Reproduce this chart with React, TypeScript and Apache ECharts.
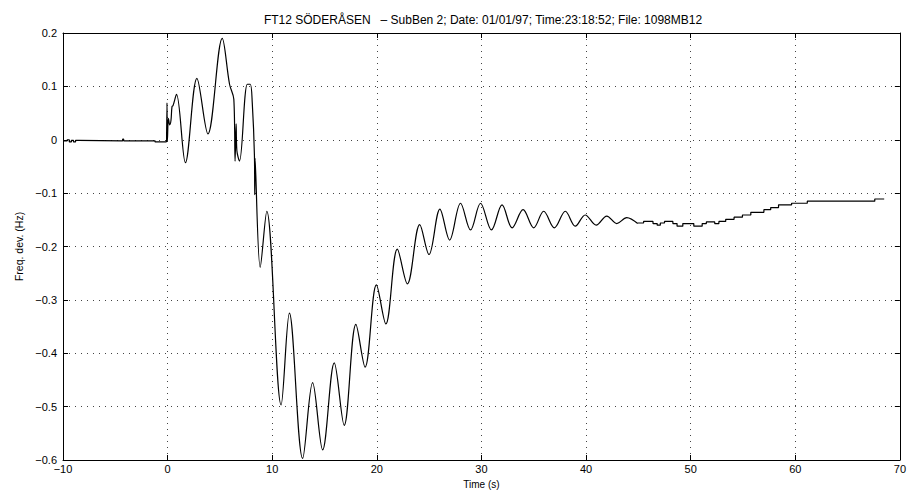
import React, { useEffect, useRef } from "react";
import * as echarts from "echarts";

// Pre-event baseline (held values, step changes)
const preTime = [-10, -9.6, -9.4, -9.2, -9.0, -8.8, -8.5, -4.3, -4.2, -1.2, -0.1];
const preFreq = [-0.002, 0.0, -0.004, -0.001, -0.004, -0.001, -0.002, 0.001, -0.002, -0.004, -0.004];

// Disturbance and swing (turning points)
const swingTime = [
  -0.1, -0.06, -0.02, 0.08, 0.2, 0.32, 0.42, 0.52, 0.85, 1.7, 2.8, 3.85, 5.22, 5.92, 6.33, 6.45,
  6.55, 6.62, 6.87, 7.62, 7.9, 8.09, 8.3, 8.33, 8.36, 8.85, 9.48, 10.85, 11.64, 12.91, 13.86,
  14.82, 15.93, 16.88, 18.0, 18.88, 19.96, 20.86, 21.96, 22.92, 24.1, 24.99, 26.03, 26.96, 28.0,
  28.96, 29.91, 30.96, 31.97, 32.93, 33.98, 35.0, 35.95, 36.97, 38.02, 38.97, 39.92, 40.97,
  41.98, 42.94, 43.89, 44.94,
];
const swingFreq = [
  -0.004, 0.069, -0.002, 0.04, 0.028, 0.036, 0.062, 0.064, 0.085, -0.043, 0.115, 0.011, 0.19,
  0.104, 0.076, -0.04, 0.03, -0.02, -0.04, 0.104, 0.104, 0.07, -0.03, -0.103, -0.035, -0.239,
  -0.134, -0.497, -0.325, -0.597, -0.455, -0.581, -0.418, -0.535, -0.346, -0.426, -0.272,
  -0.345, -0.205, -0.27, -0.159, -0.215, -0.13, -0.188, -0.119, -0.169, -0.119, -0.169, -0.122,
  -0.165, -0.131, -0.165, -0.134, -0.165, -0.134, -0.162, -0.141, -0.16, -0.143, -0.157,
  -0.146, -0.157,
];

// Recovery (quantised, step changes)
const tailTime = [
  44.94, 45.5, 46.4, 46.8, 47.1, 47.5, 48.3, 48.7, 49.25, 50.3, 51.1, 51.5, 52.3, 52.7, 53.35,
  54.15, 54.95, 55.75, 57.0, 57.65, 58.4, 59.65, 61.15, 67.6, 68.5,
];
const tailFreq = [
  -0.156, -0.153, -0.157, -0.16, -0.156, -0.153, -0.157, -0.162, -0.157, -0.162, -0.157, -0.154,
  -0.157, -0.153, -0.149, -0.145, -0.141, -0.136, -0.131, -0.127, -0.122, -0.119, -0.115,
  -0.111, -0.111,
];

const xTicks = [-10, 0, 10, 20, 30, 40, 50, 60, 70];
const yTicks = [-0.6, -0.5, -0.4, -0.3, -0.2, -0.1, 0, 0.1, 0.2];

const titleText = "FT12 SÖDERÅSEN   \u2013 SubBen 2; Date: 01/01/97; Time:23:18:52; File: 1098MB12";
const FONT = "Liberation Sans";

const pairs = (xs: number[], ys: number[]) => xs.map((x, i) => [x, ys[i]]);
const minus = (s: string) => s.replace("-", "\u2212");

export default function App() {
  const ref = useRef<HTMLDivElement>(null);

  useEffect(() => {
    document.body.style.margin = "0";
    const chart = echarts.init(ref.current!, null, { renderer: "svg" });
    const grid = { left: 63, right: 7, top: 33, bottom: 29 };
    const gridDots = { color: "#444", width: 1, type: [1, 5] as number[] };
    const tick = { show: true, inside: true, length: 5, lineStyle: { color: "#000" } };
    const lineCommon = {
      type: "line" as const,
      showSymbol: false,
      lineStyle: { color: "#000", width: 1.2 },
      xAxisIndex: 0,
      yAxisIndex: 0,
    };

    chart.setOption({
      animation: false,
      backgroundColor: "#fff",
      grid,
      graphic: [
        {
          type: "text",
          x: 483,
          y: 20,
          style: {
            text: titleText,
            fontFamily: FONT,
            fontSize: 12,
            fill: "#000",
            textAlign: "center",
            textVerticalAlign: "middle",
          },
        },
      ],
      xAxis: [
        {
          type: "value",
          min: xTicks[0],
          max: xTicks[xTicks.length - 1],
          interval: 10,
          name: "Time (s)",
          nameLocation: "middle",
          nameGap: 19,
          nameTextStyle: { fontFamily: FONT, fontSize: 10, color: "#000" },
          axisLine: { show: true, onZero: false, lineStyle: { color: "#000", width: 1 } },
          axisTick: tick,
          axisLabel: {
            fontFamily: FONT,
            fontSize: 11,
            color: "#000",
            margin: 3,
            formatter: (v: number) => minus(String(v)),
          },
          splitLine: { show: true, lineStyle: gridDots },
        },
        {
          type: "value",
          position: "top",
          min: xTicks[0],
          max: xTicks[xTicks.length - 1],
          interval: 10,
          axisLine: { show: true, onZero: false, lineStyle: { color: "#000", width: 1 } },
          axisTick: tick,
          axisLabel: { show: false },
          splitLine: { show: false },
        },
      ],
      yAxis: [
        {
          type: "value",
          min: yTicks[0],
          max: yTicks[yTicks.length - 1],
          interval: 0.1,
          name: "Freq. dev. (Hz)",
          nameLocation: "middle",
          nameGap: 36,
          nameTextStyle: { fontFamily: FONT, fontSize: 10.5, color: "#000" },
          axisLine: { show: true, onZero: false, lineStyle: { color: "#000", width: 1 } },
          axisTick: tick,
          axisLabel: {
            fontFamily: FONT,
            fontSize: 11,
            color: "#000",
            margin: 6,
            formatter: (v: number) => (Math.abs(v) < 1e-9 ? "0" : minus(v.toFixed(1))),
          },
          splitLine: { show: true, lineStyle: gridDots },
        },
        {
          type: "value",
          position: "right",
          min: yTicks[0],
          max: yTicks[yTicks.length - 1],
          interval: 0.1,
          axisLine: { show: true, onZero: false, lineStyle: { color: "#000", width: 1 } },
          axisTick: tick,
          axisLabel: { show: false },
          splitLine: { show: false },
        },
      ],
      series: [
        { ...lineCommon, name: "pre", step: "end", data: pairs(preTime, preFreq) },
        {
          ...lineCommon,
          name: "swing",
          smooth: 0.35,
          data: pairs(swingTime, swingFreq),
        },
        { ...lineCommon, name: "tail", step: "end", data: pairs(tailTime, tailFreq) },
      ],
    });
    return () => chart.dispose();
  }, []);

  return <div ref={ref} style={{ width: 909, height: 494 }} />;
}
